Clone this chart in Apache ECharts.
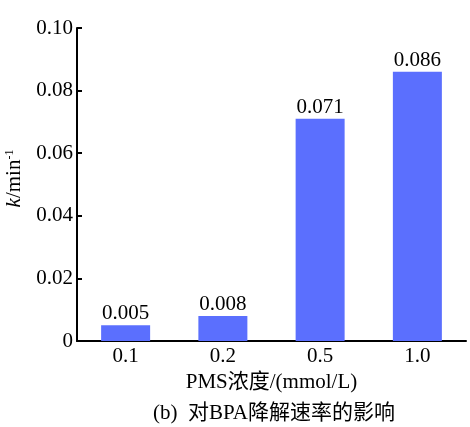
<!DOCTYPE html>
<html>
<head>
<meta charset="utf-8">
<script src="https://cdn.jsdelivr.net/npm/echarts@6/dist/echarts.min.js"></script>
<style>
  html, body { margin: 0; padding: 0; background: #fff; }
  #main { width: 470px; height: 427px; }
</style>
</head>
<body>
<div id="main"></div>
<script>
// PMS 浓度 (mmol/L)
const categories = ['0.1', '0.2', '0.5', '1.0']
// 反应速率常数 k/min^-1
const kValues = [0.005, 0.008, 0.071, 0.086]
const kLabels = ['0.005', '0.008', '0.071', '0.086']

const serif = '"Liberation Serif", "Noto Sans CJK SC", serif'

let chart = echarts.init(document.getElementById('main'))

let option = {
  animation: false,
  textStyle: { fontFamily: serif, color: '#000' },
  title: {
    text: '(b)  对BPA降解速率的影响',
    left: 148,
    top: 398,
    textStyle: {
      fontFamily: serif,
      fontSize: 21,
      fontWeight: 'normal',
      color: '#000'
    }
  },
  grid: {
    left: 77,
    right: 4,
    top: 28,
    bottom: 86,
    outerBoundsMode: 'none'
  },
  xAxis: {
    type: 'category',
    data: categories,
    name: 'PMS浓度/(mmol/L)',
    nameLocation: 'middle',
    nameGap: 30,
    nameTextStyle: { fontFamily: serif, fontSize: 21, color: '#000' },
    axisLine: { lineStyle: { color: '#000', width: 2 } },
    axisTick: { show: false },
    axisLabel: { fontFamily: serif, fontSize: 21, color: '#000', margin: 5 }
  },
  yAxis: {
    type: 'value',
    min: 0,
    max: 0.1,
    interval: 0.02,
    name: '{i|k}{n|/min}{s|-1}',
    nameLocation: 'middle',
    nameGap: 48,
    nameRotate: 90,
    nameTextStyle: {
      padding: [0, 0, 0, 12],
      rich: {
        i: { fontFamily: serif, fontSize: 21, fontStyle: 'italic', color: '#000' },
        n: { fontFamily: serif, fontSize: 21, color: '#000' },
        s: { fontFamily: serif, fontSize: 12, color: '#000', verticalAlign: 'top', padding: [0, 0, 10, 0] }
      }
    },
    axisLine: { show: true, lineStyle: { color: '#000', width: 2 } },
    axisTick: { show: true, inside: true, length: 5, lineStyle: { color: '#000', width: 2 } },
    axisLabel: {
      fontFamily: serif,
      fontSize: 21,
      color: '#000',
      margin: 4,
      formatter: function (v) {
        if (v === 0) return '0'
        return v.toFixed(2)
      }
    },
    splitLine: { show: false }
  },
  series: [
    {
      type: 'bar',
      data: kValues,
      barWidth: 49,
      itemStyle: { color: '#5b6ffe' },
      label: {
        show: true,
        position: 'top',
        distance: 1,
        fontFamily: serif,
        fontSize: 21,
        color: '#000',
        formatter: function (p) { return kLabels[p.dataIndex] }
      }
    }
  ]
}
chart.setOption(option)
</script>
</body>
</html>
